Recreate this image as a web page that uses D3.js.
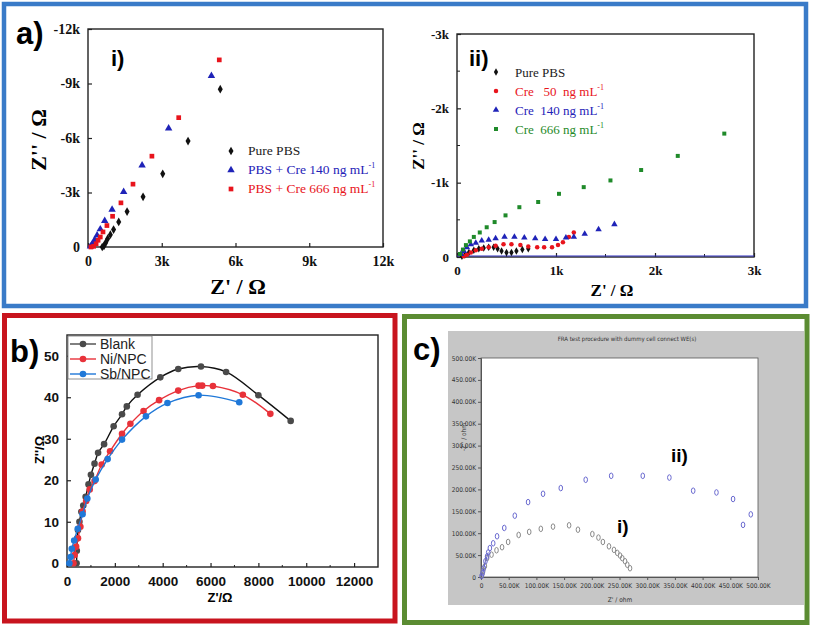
<!DOCTYPE html>
<html><head><meta charset="utf-8">
<script src="https://cdn.jsdelivr.net/npm/d3@7"></script>
<style>body{margin:0;background:#fff}svg{display:block}</style>
</head><body>
<script>
// ---------- DATA ----------
// Panel a-i (Z' in ohm, Z'' in ohm)
const aiPurePBS = [[5380,-8690],[4070,-5830],[3040,-4030],[2240,-2760],[1590,-1950],[1250,-1380],[1040,-960],[910,-680],[800,-460],[720,-240],[650,-60],[580,0]];
const aiCre140 = [[5020,-9420],[3280,-6530],[2200,-4500],[1450,-3040],[980,-2060],[680,-1440],[500,-980],[370,-640],[270,-400],[180,-180],[100,-40]];
const aiCre666 = [[5340,-10300],[3690,-7120],[2600,-5000],[1830,-3460],[1340,-2430],[1000,-1690],[770,-1180],[610,-830],[500,-550],[410,-370],[330,-180],[230,-40],[120,0]];
const aiLegend = ["Pure PBS","PBS + Cre 140 ng mL","PBS + Cre 666 ng mL"];
const aiXTicks = [0,3000,6000,9000,12000];
const aiYTicks = [0,-3000,-6000,-9000,-12000];
// Panel a-ii
const aiiPurePBS = [[720,-110],[660,-100],[600,-80],[550,-60],[500,-60],[450,-80],[410,-110],[370,-130],[320,-130],[270,-120],[220,-110],[170,-90],[120,-60],[80,-30],[50,-10]];
const aiiCre50 = [[1180,-330],[1130,-270],[1070,-200],[1020,-160],[960,-130],[880,-130],[810,-130],[720,-140],[640,-160],[550,-170],[470,-170],[390,-150],[320,-130],[250,-110],[190,-90],[140,-60],[100,-30],[70,-10]];
const aiiCre140 = [[1590,-440],[1430,-370],[1290,-310],[1180,-270],[1100,-260],[1000,-240],[890,-240],[790,-250],[680,-260],[580,-270],[480,-270],[390,-250],[320,-230],[250,-220],[190,-190],[140,-170],[100,-130],[70,-80],[40,-40]];
const aiiCre666 = [[2700,-1660],[2230,-1360],[1860,-1170],[1550,-1030],[1280,-940],[1030,-850],[820,-740],[630,-670],[490,-560],[380,-470],[300,-400],[230,-330],[170,-270],[130,-210],[90,-160],[60,-100],[30,-40]];
const aiiLegend = ["Pure PBS","Cre   50  ng mL","Cre  140 ng mL","Cre  666 ng mL"];
const aiiXTicks = [0,1000,2000,3000];
const aiiYTicks = [0,-1000,-2000,-3000];
// Panel b
const bBlank = [[9350,34.3],[8000,40.5],[6650,46.1],[5600,47.4],[4650,46.8],[3900,44.8],[2950,40.6],[2500,37.8],[2300,35.9],[1950,33.0],[1550,28.7],[1300,26.6],[1150,24.0],[1000,21.3],[900,19.0],[780,16.0],[680,13.9],[600,12.4],[520,10.0],[460,8.0],[430,6.0],[410,3.0],[400,0]];
const bNi = [[8500,36.0],[7350,40.6],[6100,42.7],[5650,42.8],[5500,42.8],[4650,41.6],[3850,39.3],[3200,36.7],[2650,33.6],[2300,31.2],[1800,27.0],[1450,23.8],[1150,19.8],[950,17.8],[800,15.0],[650,12.5],[560,8.8],[460,6.0],[380,4.0],[320,2.0],[270,0]];
const bSb = [[7200,38.8],[5500,40.5],[4200,38.6],[3300,35.4],[2300,29.8],[1700,25.1],[1200,20.2],[850,15.6],[650,11.8],[450,8.3],[300,5.5],[200,3.5],[150,1.5],[100,0]];
const bLegend = ["Blank","Ni/NPC","Sb/NPC"];
const bXTicks = [0,2000,4000,6000,8000,10000,12000];
const bYTicks = [0,10,20,30,40,50];
// Panel c (kOhm)
const cI = [[2,5],[4,14],[7,25],[11,43],[19,51],[28,61],[38,68],[49,80],[68,96],[87,103],[108,110],[130,115],[159,118],[175,108],[201,98],[212,90],[220,80],[231,70],[240,62],[246,55],[251,49],[255,43],[260,36],[264,28],[269,20]];
const cII = [[1,2],[3,9],[5,20],[8,36],[11,47],[13,56],[16,66],[22,77],[29,93],[42,112],[61,140],[85,171],[112,190],[144,203],[189,222],[235,231],[292,231],[340,227],[383,197],[425,193],[455,178],[473,119],[487,143]];
const cTicks = [0,50,100,150,200,250,300,350,400,450,500];

// ---------- DRAW ----------
const svg = d3.select("body").append("svg").attr("width",813).attr("height",627);
const SERIF = "'Liberation Serif','Times New Roman',serif";
const SANS = "'Liberation Sans',Arial,sans-serif";

// panel borders
svg.append("rect").attr("x",4).attr("y",4).attr("width",802).attr("height",302).attr("fill","none").attr("stroke","#3a7bc8").attr("stroke-width",4.5);
svg.append("rect").attr("x",4.5).attr("y",315.5).attr("width",390.5).attr("height",305.5).attr("fill","none").attr("stroke","#c8141e").attr("stroke-width",5);
svg.append("rect").attr("x",404.5).attr("y",316.5).attr("width",402.5).attr("height",306).attr("fill","none").attr("stroke","#5b8c32").attr("stroke-width",5);

function sym(type,size){return d3.symbol().type(type).size(size)();}
function kfmt(v){return v===0?"0":(v/1000)+"k";}

function frameAxes(g,x,y,xt,yt,fmt,font,fs,weight,innerTick){
  const [x0,x1]=x.range(),[y0,y1]=y.range();
  g.append("rect").attr("x",x0).attr("y",y1).attr("width",x1-x0).attr("height",y0-y1).attr("fill","none").attr("stroke","#222").attr("stroke-width",1.4);
  const xa=d3.axisBottom(x).tickValues(xt).tickFormat(fmt).tickSize(innerTick?-4:4).tickPadding(innerTick?9:3);
  const ya=d3.axisLeft(y).tickValues(yt).tickFormat(fmt).tickSize(innerTick?-4:4).tickPadding(innerTick?8:3);
  const gx=g.append("g").attr("transform",`translate(0,${y0})`).call(xa);
  const gy=g.append("g").attr("transform",`translate(${x0},0)`).call(ya);
  [gx,gy].forEach(a=>{a.select(".domain").remove();a.selectAll("line").attr("stroke","#222").attr("stroke-width",1.2);
    a.selectAll("text").attr("font-family",font).attr("font-size",fs).attr("font-weight",weight).attr("fill","#111");});
  return {gx,gy};
}

// ===== a-i =====
{
const g=svg.append("g");
const x=d3.scaleLinear().domain([0,12000]).range([88,383]);
const y=d3.scaleLinear().domain([0,-12000]).range([247,29]);
frameAxes(g,x,y,aiXTicks,aiYTicks,kfmt,SERIF,14,"bold",true);
const series=[[aiPurePBS,d3.symbolDiamond,"#111",22],[aiCre140,d3.symbolTriangle,"#1f23b8",24],[aiCre666,d3.symbolSquare,"#e8141c",22]];
series.forEach(([d,t,c,s])=>g.selectAll(null).data(d).join("path").attr("d",sym(t,s)).attr("fill",c)
  .attr("transform",p=>`translate(${x(p[0])},${y(p[1])})`));
aiLegend.forEach((l,i)=>{
  const [,t,c,s]=series[i];
  g.append("path").attr("d",sym(t,s)).attr("fill",c).attr("transform",`translate(231,${151+i*19})`);
  const tx=g.append("text").attr("x",248).attr("y",155+i*19).attr("font-family",SERIF).attr("font-size",13.5).attr("fill",i===0?"#222":c).text(l);
  if(i>0) tx.append("tspan").attr("dy",-6).attr("font-size",8).text("-1");
});
g.append("text").attr("x",111).attr("y",66).attr("font-family",SANS).attr("font-weight","bold").attr("font-size",22).text("i)");
g.append("text").attr("transform","translate(46,140) rotate(-90)").attr("text-anchor","middle").attr("font-family",SERIF).attr("font-weight","bold").attr("font-size",22).text("Z'' / Ω");
g.append("text").attr("x",238).attr("y",294).attr("text-anchor","middle").attr("font-family",SERIF).attr("font-weight","bold").attr("font-size",22).text("Z' / Ω");
g.append("text").attr("x",16).attr("y",44).attr("font-family",SANS).attr("font-weight","bold").attr("font-size",31).text("a)");
}

// ===== a-ii =====
{
const g=svg.append("g");
const x=d3.scaleLinear().domain([0,3000]).range([457,754]);
const y=d3.scaleLinear().domain([0,-3000]).range([257,34]);
frameAxes(g,x,y,aiiXTicks,aiiYTicks,kfmt,SERIF,13,"bold",true);
// minor ticks
g.selectAll(null).data([500,1500,2500]).join("line").attr("x1",d=>x(d)).attr("x2",d=>x(d)).attr("y1",257).attr("y2",254).attr("stroke","#222");
g.selectAll(null).data([-500,-1500,-2500]).join("line").attr("y1",d=>y(d)).attr("y2",d=>y(d)).attr("x1",457).attr("x2",460).attr("stroke","#222");
g.append("line").attr("x1",x(0)).attr("x2",x(3000)).attr("y1",y(0)-1).attr("y2",y(0)-1).attr("stroke","#3030c0").attr("stroke-width",1);
const series=[[aiiPurePBS,d3.symbolDiamond,"#111",16],[aiiCre50,d3.symbolCircle,"#e8141c",16],[aiiCre140,d3.symbolTriangle,"#1f23b8",18],[aiiCre666,d3.symbolSquare,"#1f8a2a",16]];
series.forEach(([d,t,c,s])=>g.selectAll(null).data(d).join("path").attr("d",sym(t,s)).attr("fill",c)
  .attr("transform",p=>`translate(${x(p[0])},${y(p[1])})`));
aiiLegend.forEach((l,i)=>{
  const [,t,c,s]=series[i];
  g.append("path").attr("d",sym(t,s)).attr("fill",c).attr("transform",`translate(496,${72+i*19})`);
  const tx=g.append("text").attr("x",515).attr("y",77+i*19).attr("font-family",SERIF).attr("font-size",13).attr("fill",i===0?"#222":c).attr("xml:space","preserve").style("white-space","pre").text(l);
  if(i>0) tx.append("tspan").attr("dy",-6).attr("font-size",8).text("-1");
});
g.append("text").attr("x",469).attr("y",66).attr("font-family",SANS).attr("font-weight","bold").attr("font-size",22).text("ii)");
g.append("text").attr("transform","translate(424,146) rotate(-90)").attr("text-anchor","middle").attr("font-family",SERIF).attr("font-weight","bold").attr("font-size",17).text("Z'' / Ω");
g.append("text").attr("x",612).attr("y",296).attr("text-anchor","middle").attr("font-family",SERIF).attr("font-weight","bold").attr("font-size",17).text("Z' / Ω");
}

// ===== b =====
{
const g=svg.append("g");
const x=d3.scaleLinear().domain([0,13000]).range([67,378]);
const y=d3.scaleLinear().domain([-0.9,55]).range([567,335]);
frameAxes(g,x,y,bXTicks,bYTicks,d=>d,SANS,13.5,"bold",true);
g.selectAll(null).data([1000,3000,5000,7000,9000,11000]).join("line").attr("x1",d=>x(d)).attr("x2",d=>x(d)).attr("y1",567).attr("y2",565).attr("stroke","#222");
const series=[[bBlank,"#4a4a4a"],[bNi,"#e8323a"],[bSb,"#1f78d8"]];
const line=d3.line().x(p=>x(p[0])).y(p=>y(p[1])).curve(d3.curveCatmullRom);
series.forEach(([d,c])=>{
  g.append("path").attr("d",line(d)).attr("fill","none").attr("stroke",c==="#4a4a4a"?"#111":c).attr("stroke-width",1.4);
  g.selectAll(null).data(d).join("circle").attr("cx",p=>x(p[0])).attr("cy",p=>y(p[1])).attr("r",3.3).attr("fill",c);
});
g.append("rect").attr("x",68).attr("y",336).attr("width",84).attr("height",43).attr("fill","#fff").attr("stroke","#777").attr("stroke-width",0.8);
bLegend.forEach((l,i)=>{
  const c=series[i][1], yy=344+i*15;
  g.append("line").attr("x1",70).attr("x2",96).attr("y1",yy).attr("y2",yy).attr("stroke",c).attr("stroke-width",1.4);
  g.append("circle").attr("cx",83).attr("cy",yy).attr("r",3.3).attr("fill",c);
  g.append("text").attr("x",100).attr("y",yy+5).attr("font-family",SANS).attr("font-size",14).attr("fill","#222").text(l);
});
g.append("text").attr("transform","translate(44,450) rotate(-90)").attr("text-anchor","middle").attr("font-family",SANS).attr("font-weight","bold").attr("font-size",13).text("Z''/Ω");
g.append("text").attr("x",220).attr("y",602).attr("text-anchor","middle").attr("font-family",SANS).attr("font-weight","bold").attr("font-size",13).text("Z'/Ω");
g.append("text").attr("x",10).attr("y",362).attr("font-family",SANS).attr("font-weight","bold").attr("font-size",31).text("b)");
}

// ===== c =====
{
const g=svg.append("g");
g.append("rect").attr("x",448).attr("y",331).attr("width",356).attr("height",274).attr("fill","#c6c6c6");
const x=d3.scaleLinear().domain([0,500]).range([481,758]);
const y=d3.scaleLinear().domain([0,500]).range([577,358]);
g.append("rect").attr("x",481).attr("y",358).attr("width",277).attr("height",219).attr("fill","#fff").attr("stroke","#555").attr("stroke-width",0.8);
const fmt=d=>d===0?"0":d.toFixed(2)+"K";
const NARROW="'Liberation Sans Narrow','DejaVu Sans Condensed',sans-serif";
const gx=g.append("g").attr("transform","translate(0,577)").call(d3.axisBottom(x).tickValues(cTicks).tickFormat(fmt).tickSize(3).tickPadding(3));
const gy=g.append("g").attr("transform","translate(481,0)").call(d3.axisLeft(y).tickValues(cTicks).tickFormat(fmt).tickSize(3).tickPadding(2));
[gx,gy].forEach(a=>{a.select(".domain").attr("stroke","#555");a.selectAll("line").attr("stroke","#555");
  a.selectAll("text").attr("font-family",NARROW).attr("font-size",6.5).attr("fill","#333");});
g.append("text").attr("x",627).attr("y",341).attr("text-anchor","middle").attr("font-family",NARROW).attr("font-size",6).attr("fill","#333").text("FRA test procedure with dummy cell connect WE(s)");
g.append("text").attr("x",620).attr("y",602).attr("text-anchor","middle").attr("font-family",NARROW).attr("font-size",6.5).attr("fill","#333").text("Z' / ohm");
g.append("text").attr("transform","translate(466,437) rotate(-90)").attr("text-anchor","middle").attr("font-family",NARROW).attr("font-size",6.5).attr("fill","#333").text("-Z'' / ohm");
g.append("path").attr("d",d3.line().x(p=>x(p[0])).y(p=>y(p[1]))(cII.slice(0,6))).attr("fill","none").attr("stroke","#5050c8").attr("stroke-width",1);
g.selectAll(null).data(cI).join("ellipse").attr("cx",p=>x(p[0])).attr("cy",p=>y(p[1])).attr("rx",1.8).attr("ry",2.8).attr("fill","none").attr("stroke","#8a8a8a").attr("stroke-width",1);
g.selectAll(null).data(cII).join("ellipse").attr("cx",p=>x(p[0])).attr("cy",p=>y(p[1])).attr("rx",1.8).attr("ry",2.8).attr("fill","none").attr("stroke","#6a6ad0").attr("stroke-width",1);
g.append("text").attr("x",671).attr("y",462).attr("font-family",SANS).attr("font-weight","bold").attr("font-size",19).text("ii)");
g.append("text").attr("x",617).attr("y",533).attr("font-family",SANS).attr("font-weight","bold").attr("font-size",19).text("i)");
g.append("text").attr("x",413).attr("y",360).attr("font-family",SANS).attr("font-weight","bold").attr("font-size",31).text("c)");
}
</script>
</body></html>
